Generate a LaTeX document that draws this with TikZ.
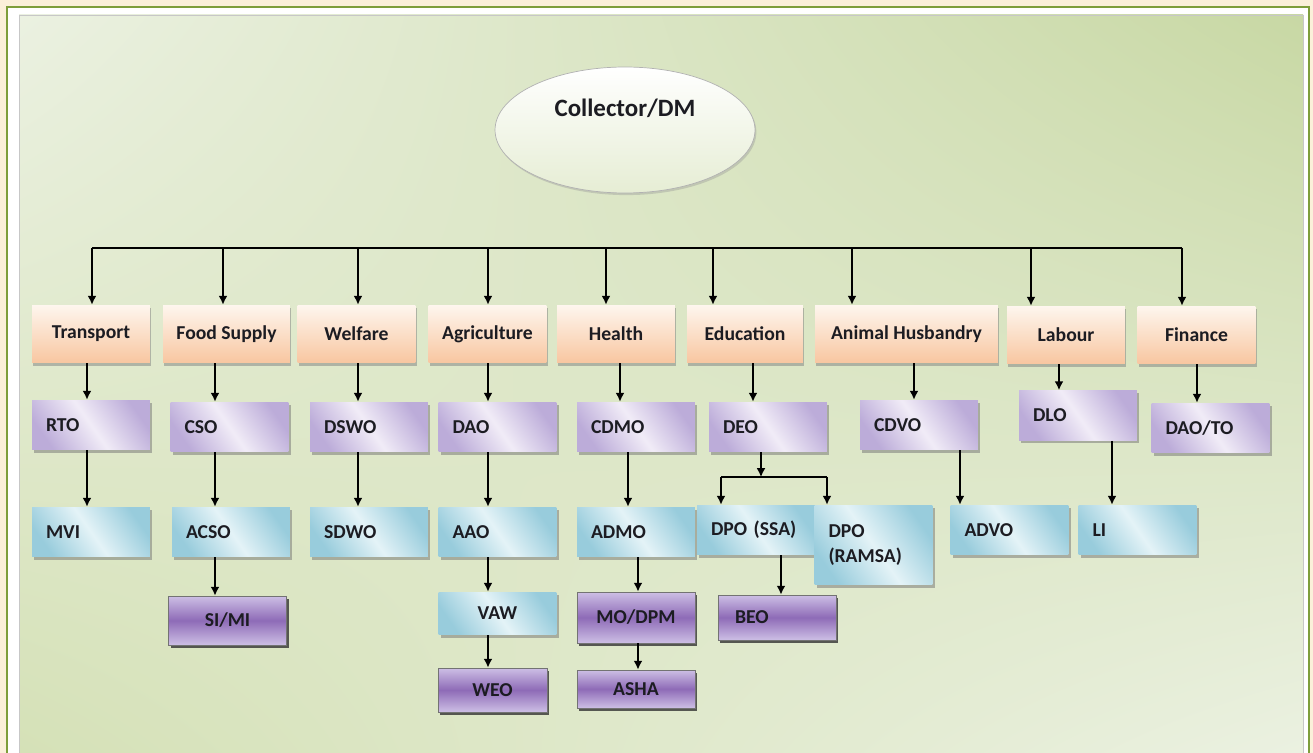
\documentclass[tikz,border=0pt]{standalone}
\usepackage{fontspec}
\setmainfont{Carlito}
\usepackage{tikz}
\usetikzlibrary{arrows.meta, shapes.geometric, shadows, shadings, positioning}

\definecolor{cream}{HTML}{FBF0DA}
\definecolor{leaf}{HTML}{7E9E3C}
\definecolor{panellight}{HTML}{EBF1E1}
\definecolor{panelgreen}{HTML}{C8D8A4}
\definecolor{panelside}{HTML}{D5E1B7}
\definecolor{peachtop}{HTML}{FEF6EE}
\definecolor{peach}{HTML}{F8C6A0}
\definecolor{lav}{HTML}{BCACD9}
\definecolor{lavlight}{HTML}{F1ECF7}
\definecolor{sky}{HTML}{98CCDC}
\definecolor{skylight}{HTML}{E4F3F7}
\definecolor{grape}{HTML}{8E6BB7}
\definecolor{grapelight}{HTML}{CDBFE5}
\definecolor{ink}{HTML}{1C1C22}

\tikzset{
  box/.style={rectangle, font=\bfseries\fontsize{11.2}{14.5}\selectfont, text=ink,
    minimum height=1cm, inner ysep=0pt},
  dept/.style={box, minimum width=2.36cm, minimum height=1.16cm,
    top color=peachtop, bottom color=peach,
    drop shadow={shadow xshift=0.8pt, shadow yshift=-1.5pt, fill=black!50, opacity=.5}},
  officer/.style={box, text width=1.8cm, inner xsep=0.28cm, align=left,
    left color=lav, right color=lav, middle color=lavlight, shading angle=125,
    drop shadow={shadow xshift=1.2pt, shadow yshift=-1.5pt, fill=black!55, opacity=.5}},
  subofficer/.style={box, text width=1.8cm, inner xsep=0.28cm, align=left,
    left color=sky, right color=sky, middle color=skylight, shading angle=125,
    drop shadow={shadow xshift=1.2pt, shadow yshift=-1.5pt, fill=black!55, opacity=.5}},
  fieldstaff/.style={box, minimum width=2.36cm, align=center, draw=black!55, line width=0.5pt,
    top color=grapelight, bottom color=grapelight, middle color=grape,
    drop shadow={shadow xshift=1.2pt, shadow yshift=-1.5pt, fill=black!80, opacity=.8}},
  head/.style={ellipse, minimum width=5.2cm, minimum height=2.52cm, draw=black!30,
    top color=white, bottom color=panelside!60!white, text=ink,
    font=\bfseries\fontsize{14.2}{16}\selectfont, text height=0.38cm, text depth=0.9cm,
    drop shadow={shadow xshift=0.8pt, shadow yshift=-1.2pt, fill=black!40, opacity=.4}},
  link/.style={->, line width=0.8pt}
}

\begin{document}
\begin{tikzpicture}[>={Latex[length=5pt, width=5pt]}, x=0.02cm, y=-0.02cm]
    \useasboundingbox (0,0) rectangle (1313,753);

    % 1. Frame and green panel
    \fill[cream] (0,0) rectangle (1313,753);
    \fill[white] (7,7) rectangle (1309,753);
    \draw[leaf, line width=1.5pt] (7,753) -- (7,7) -- (1309,7) -- (1309,753);
    \shade[upper left=panellight, upper right=panelgreen,
           lower left=panelside, lower right=panellight] (19,15) rectangle (1303,753);
    \draw[black!22] (19,753) -- (19,15) -- (1303,15) -- (1303,753);

    % 2. Collector at the top
    \node[head] (dm) at (625,130) {Collector/DM};

    % 3. Departments
    \node[dept] (trans) at (91,334) {Transport};
    \node[dept, minimum width=2.54cm] (food) at (226.5,334) {Food Supply};
    \node[dept] (welf) at (356.5,334) {Welfare};
    \node[dept] (agri) at (487.5,334) {Agriculture};
    \node[dept] (health) at (616,334) {Health};
    \node[dept, minimum width=2.32cm] (edu) at (745,334) {Education};
    \node[dept, minimum width=3.66cm] (anim) at (906.5,334) {Animal Husbandry};
    \node[dept] (labour) at (1066,335) {Labour};
    \node[dept] (fin) at (1196.5,335) {Finance};

    % 4. District officers
    \node[officer] (rto) at (91,425) {RTO};
    \node[officer] (cso) at (229.5,427) {CSO};
    \node[officer] (dswo) at (369,427) {DSWO};
    \node[officer] (dao) at (497.5,427) {DAO};
    \node[officer] (cdmo) at (636,427) {CDMO};
    \node[officer] (deo) at (768,427) {DEO};
    \node[officer] (cdvo) at (919,425) {CDVO};
    \node[officer] (dlo) at (1078,415.5) {DLO};
    \node[officer] (daoto) at (1210.5,428) {DAO/TO};

    % 5. Assistant officers
    \node[subofficer] (mvi) at (91,532) {MVI};
    \node[subofficer] (acso) at (231,532) {ACSO};
    \node[subofficer] (sdwo) at (369,532) {SDWO};
    \node[subofficer] (aao) at (497.5,532) {AAO};
    \node[subofficer] (admo) at (636,532) {ADMO};
    \node[subofficer] (dpossa) at (756,530) {DPO (SSA)};
    \node[subofficer, minimum height=1.6cm] (dporamsa) at (873.5,545) {DPO\\(RAMSA)};
    \node[subofficer] (advo) at (1009.5,530) {ADVO};
    \node[subofficer] (li) at (1137.5,530) {LI};

    % 6. Field level
    \node[fieldstaff, minimum height=0.98cm] (simi) at (227.5,620.5) {SI/MI};
    \node[subofficer, align=center, minimum height=0.86cm] (vaw) at (497.5,613.5) {VAW};
    \node[fieldstaff, minimum height=1.02cm] (modpm) at (636,617.5) {MO/DPM};
    \node[fieldstaff, text width=1.68cm, inner xsep=0.28cm, align=left,
          minimum height=0.9cm] (beo) at (777,617.5) {BEO};
    \node[fieldstaff, minimum width=2.18cm, minimum height=0.88cm] (weo) at (492.5,690) {WEO};
    \node[fieldstaff, minimum height=0.76cm] (asha) at (636,689) {ASHA};

    % 7. Connectors
    \coordinate (busL) at (92,248);
    \coordinate (busR) at (1182,248);
    \draw[line width=0.8pt] (busL) -- (busR);
    \foreach \n/\x in {trans/92, food/223, welf/358, agri/488, health/606,
                       edu/713, anim/852, labour/1031, fin/1182}
        \draw[link] (busL -| \x,0) -- (\n.north -| \x,0);

    \foreach \a/\b/\x in {trans/rto/87, food/cso/215, welf/dswo/358, agri/dao/488,
                          health/cdmo/620, edu/deo/753, anim/cdvo/914,
                          labour/dlo/1059, fin/daoto/1197,
                          rto/mvi/87, cso/acso/215, dswo/sdwo/358, dao/aao/488,
                          cdmo/admo/628, cdvo/advo/960, dlo/li/1112,
                          acso/simi/215, aao/vaw/488, admo/modpm/638, dpossa/beo/781,
                          vaw/weo/488, modpm/asha/638}
        \draw[link] (\a.south -| \x,0) -- (\b.north -| \x,0);

    % DEO splits in two
    \coordinate (fork) at (761,477);
    \draw[link] (deo.south -| fork) -- (fork);
    \draw[line width=0.8pt] (fork -| 721,0) -- (fork -| 827,0);
    \draw[link] (fork -| 721,0) -- (dpossa.north -| 721,0);
    \draw[link] (fork -| 827,0) -- (dporamsa.north -| 827,0);

\end{tikzpicture}
\end{document}
